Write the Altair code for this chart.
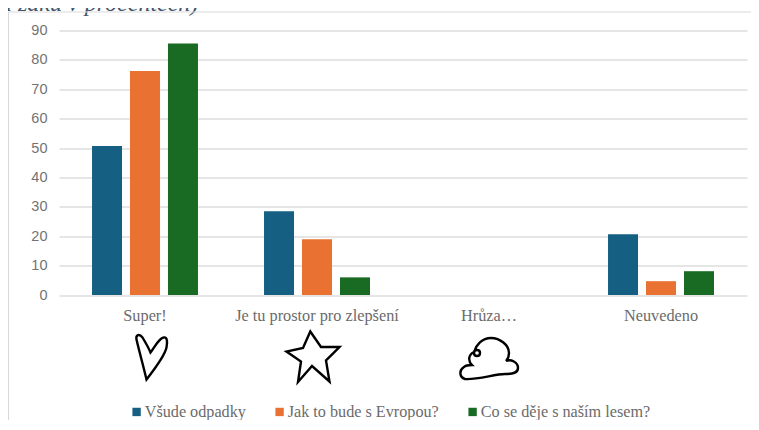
import altair as alt
import pandas as pd

categories = ["Super!", "Je tu prostor pro zlepšení", "Hrůza…", "Neuvedeno"]
series = ["Všude odpadky", "Jak to bude s Evropou?", "Co se děje s naším lesem?"]
colors = ["#156082", "#E97132", "#196B24"]
v_odpadky = [50.7, 28.5, 0, 20.7]
v_evropa = [76.2, 19.0, 0, 4.7]
v_les = [85.6, 6.0, 0, 8.1]
title_text = "a žáků v procentech)"

rows = []
for s, vals in zip(series, [v_odpadky, v_evropa, v_les]):
    for c, v in zip(categories, vals):
        rows.append({"kat": c, "serie": s, "hodnota": v})
df = pd.DataFrame(rows)

x_scale = alt.Scale(domain=categories, paddingInner=0.384, paddingOuter=0.192)

bars = alt.Chart(df).mark_bar().encode(
    x=alt.X("kat:N", scale=x_scale, sort=categories, title=None,
            axis=alt.Axis(labelAngle=0, labelFont="Liberation Serif", labelFontSize=16.3,
                          labelColor="#6b6b6b", ticks=False, domain=False, labelPadding=12,
                          labelLimit=300)),
    xOffset=alt.XOffset("serie:N", sort=series, scale=alt.Scale(domain=series, paddingInner=0.21)),
    y=alt.Y("hodnota:Q", scale=alt.Scale(domain=[0, 90], nice=False), title=None,
            axis=alt.Axis(values=list(range(0, 100, 10)), labelFont="Liberation Sans", labelFontSize=14.5,
                          labelColor="#737373", ticks=False, domain=False, labelPadding=12,
                          gridColor="#dcdcdc", gridWidth=1.3)),
    color=alt.Color("serie:N", sort=series, scale=alt.Scale(domain=series, range=colors), title=None,
                    legend=alt.Legend(orient="none", legendX=69.5, legendY=373, direction="horizontal",
                                      symbolType="square", symbolSize=70, symbolStrokeWidth=0,
                                      labelFont="Liberation Serif", labelFontSize=16.2, labelColor="#6b6b6b",
                                      columnPadding=25, labelOffset=0, labelLimit=300)),
)

heart = "M1.5,23 C-1.5,10 -6.5,-8 -8.5,-17 C-9.5,-22 -5.5,-23 -2.5,-19 C0.5,-14 3.5,-9 5.5,-4 C9.5,-9 13.5,-18 18.5,-19 C22.5,-20 22.5,-14 21.5,-9 C19.5,0 8.5,14 1.5,23 Z"
star = "M-6.7,-25 L4,-9.5 L22.5,-9.5 C18,-5 13,0 9,4 L12.5,25 L-5,9.5 L-19,25.5 L-16,5 L-30.5,-5 L-14,-8.5 Z"
cloud = ("M-24,20 C-30,18 -30,11 -25,8 C-23,6 -20,6 -17,6 C-21,2 -21,-4 -15,-7 C-13,-14 -7,-21 2,-21 "
         "C11,-21 20,-14 20,-6 C20,-3 19,0 17,2 C22,0 29,3 29,9 C29,14 24,15 16,15 C6,15 -12,21 -24,20 Z "
         "M-15,-6 C-15,-10 -9,-10 -9,-6 C-9,-2 -15,-2 -15,-6 Z")

def icon(cat, path, py):
    return alt.Chart(pd.DataFrame({"kat": [cat]})).mark_point(
        shape=path, size=4, filled=False, stroke="#000000", strokeWidth=2.4, opacity=1
    ).encode(x=alt.X("kat:N", scale=x_scale, sort=categories), y=alt.value(py))

frame_top = alt.Chart(pd.DataFrame({"a": [0]})).mark_rule(color="#d9d9d9", strokeWidth=1.2).encode(
    x=alt.value(-51), x2=alt.value(692), y=alt.value(-18.5))
frame_left = alt.Chart(pd.DataFrame({"a": [0]})).mark_rule(color="#d9d9d9", strokeWidth=1.2).encode(
    x=alt.value(-50.5), y=alt.value(-18.5), y2=alt.value(392))
title_mark = alt.Chart(pd.DataFrame({"t": [title_text]})).mark_text(
    font="Liberation Serif", fontStyle="italic", fontSize=24, color="#44546A", align="left", baseline="alphabetic"
).encode(text="t:N", x=alt.value(-59), y=alt.value(-19.5))

chart = alt.layer(
    title_mark, frame_top, frame_left, bars,
    icon(categories[0], heart, 326),
    icon(categories[1], star, 326),
    icon(categories[2], cloud, 328.5),
).resolve_scale(x="shared").properties(
    width=688, height=264.5, autosize="none",
    padding={"left": 51, "top": 22.5, "right": 4, "bottom": 125},
).configure_view(stroke=None)

chart.save("out.html", embed_options={"renderer": "svg", "actions": False})
